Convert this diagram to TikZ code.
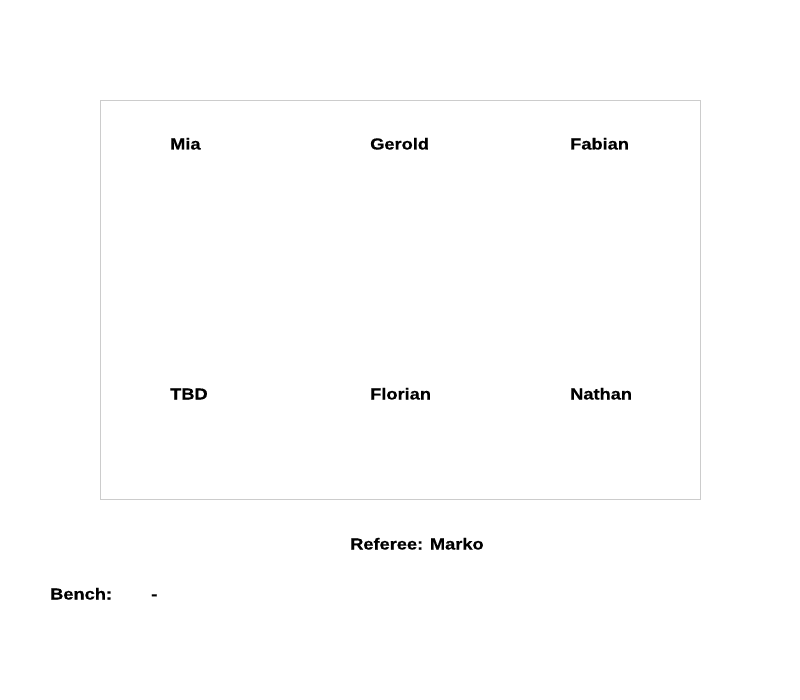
\documentclass[tikz,border=0pt]{standalone}
\usepackage{fontspec}
\setmainfont{Liberation Sans}
\newfontfamily\lblfont[FakeStretch=1.14,FakeBold=0.6]{Liberation Sans Bold}
\definecolor{framegray}{RGB}{204,204,204}
\begin{document}
\begin{tikzpicture}[x=1pt,y=-1pt,
  lbl/.style={anchor=base west,inner sep=0pt,font=\lblfont\fontsize{16}{19}\selectfont}]
\useasboundingbox (0,0) rectangle (800,700);
\draw[framegray,line width=1pt] (100.5,100.5) rectangle (700.5,499.5);
\node[lbl] (mia) at (170,149.5) {Mia};
\node[lbl] (gerold) at (370,149.5) {Gerold};
\node[lbl] (fabian) at (570,149.5) {Fabian};
\node[lbl] (tbd) at (170,399.5) {TBD};
\node[lbl] (florian) at (370,399.5) {Florian};
\node[lbl] (nathan) at (570,399.5) {Nathan};
\node[lbl] (ref) at (350,549.5) {Referee: Marko};
\node[lbl] (bench) at (50,599.5) {Bench:};
\node[lbl] (dash) at (151,599.5) {-};
\end{tikzpicture}
\end{document}
